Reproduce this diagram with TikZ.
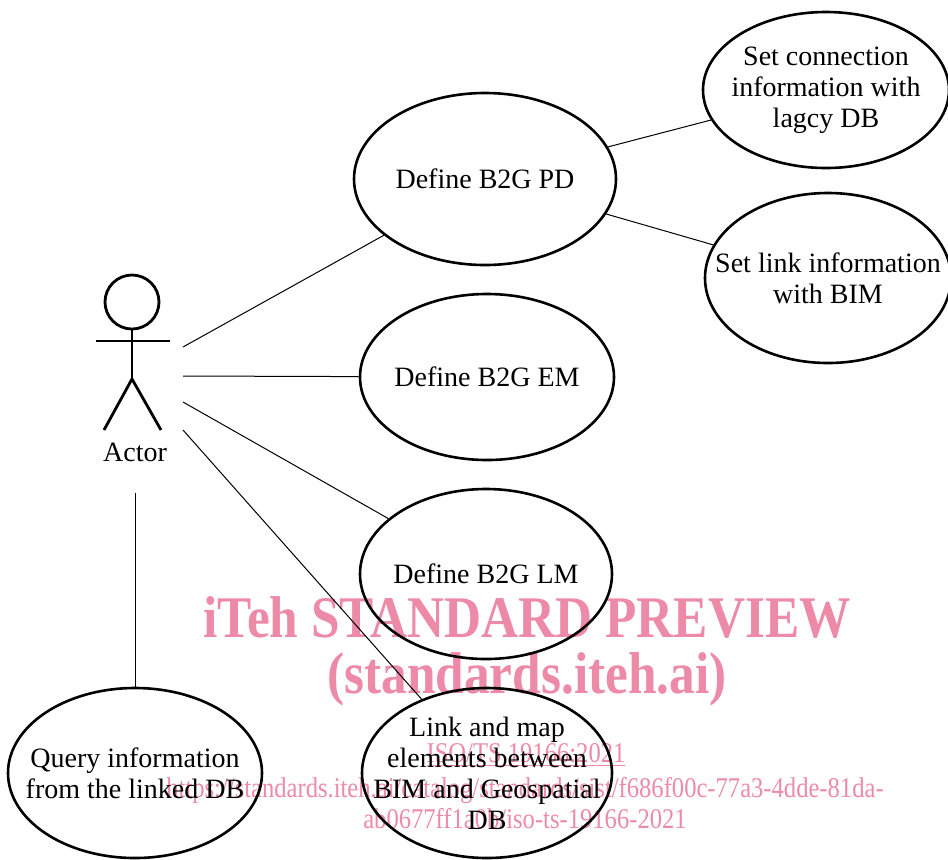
\documentclass[tikz,border=0pt]{standalone}
\usepackage{fontspec}
\setmainfont{Liberation Serif}
\usepackage{graphicx}
\usetikzlibrary{shapes.geometric}
\definecolor{wmpink}{RGB}{236,138,168}

\begin{document}
\begin{tikzpicture}[x=0.5pt,y=-0.5pt,
    usecase/.style={ellipse,draw,line width=1.3pt,inner sep=0pt},
    uctext/.style={align=center,font=\fontsize{14}{15.5}\selectfont},
    wmbig/.style={text=wmpink,anchor=base,inner sep=0pt,font=\fontsize{29.5}{30}\selectfont\bfseries},
    wmsmall/.style={text=wmpink,anchor=base,inner sep=0pt,font=\fontsize{14.3}{15}\selectfont}]
    \useasboundingbox (0,0) rectangle (948,859);
    \node[wmbig] (wmtitle) at (527,637) {\scalebox{0.87}[1]{iTeh STANDARD PREVIEW}};
    \node[wmbig] (wmsite) at (527,693) {\scalebox{0.87}[1]{(standards.iteh.ai)}};
    \node[wmsmall] (wmiso) at (526,762) {\scalebox{0.86}[1]{\underline{ISO/TS 19166:2021}}};
    \node[wmsmall] (wmurl) at (525,797) {\scalebox{0.86}[1]{https://standards.iteh.ai/catalog/standards/sist/f686f00c-77a3-4dde-81da-}};
    \node[wmsmall] (wmurlb) at (525,828) {\scalebox{0.86}[1]{ab0677ff1a0b/iso-ts-19166-2021}};
    \draw[line width=1.4pt] (132,302) circle (27);
    \draw[line width=1.4pt] (96,341) -- (170,341);
    \draw[line width=1.4pt] (132,329) -- (132,379);
    \draw[line width=1.4pt] (104,430) -- (132,379) -- (161,430);
    \node[uctext] (actor) at (135,452) {Actor};
    \coordinate (a1) at (183,347);
    \coordinate (a2) at (183,376);
    \coordinate (a3) at (183,402);
    \coordinate (a4) at (183,430);
    \coordinate (a5) at (135,493);
    \node[usecase,minimum width=131pt,minimum height=86pt] (pd) at (485,179) {};
    \node[uctext] at (pd) {Define B2G PD};
    \node[usecase,minimum width=127pt,minimum height=83pt] (em) at (487,377) {};
    \node[uctext] at (em) {Define B2G EM};
    \node[usecase,minimum width=126pt,minimum height=85pt] (lm) at (486,574) {};
    \node[uctext] at (lm) {Define B2G LM};
    \node[usecase,minimum width=125pt,minimum height=85pt] (linkmap) at (487,773) {};
    \node[uctext] at (linkmap) {Link and map\\elements between\\BIM and Geospatial\\DB};
    \node[usecase,minimum width=127pt,minimum height=85pt] (query) at (135,773) {};
    \node[uctext] at (query) {Query information\\from the linked DB};
    \node[usecase,minimum width=123pt,minimum height=78pt] (setconn) at (826,90) {};
    \node[uctext] at (setconn) {Set connection\\information with\\lagcy DB};
    \node[usecase,minimum width=123pt,minimum height=85pt] (setlink) at (828,278) {};
    \node[uctext] at (setlink) {Set link information\\with BIM};
    \draw[line width=0.5pt] (a1) -- (pd);
    \draw[line width=0.5pt] (a2) -- (em);
    \draw[line width=0.5pt] (a3) -- (lm);
    \draw[line width=0.5pt] (a4) -- (linkmap);
    \draw[line width=0.5pt] (a5) -- (query);
    \draw[line width=0.5pt] (pd) -- (setconn);
    \draw[line width=0.5pt] (pd) -- (setlink);
\end{tikzpicture}
\end{document}
